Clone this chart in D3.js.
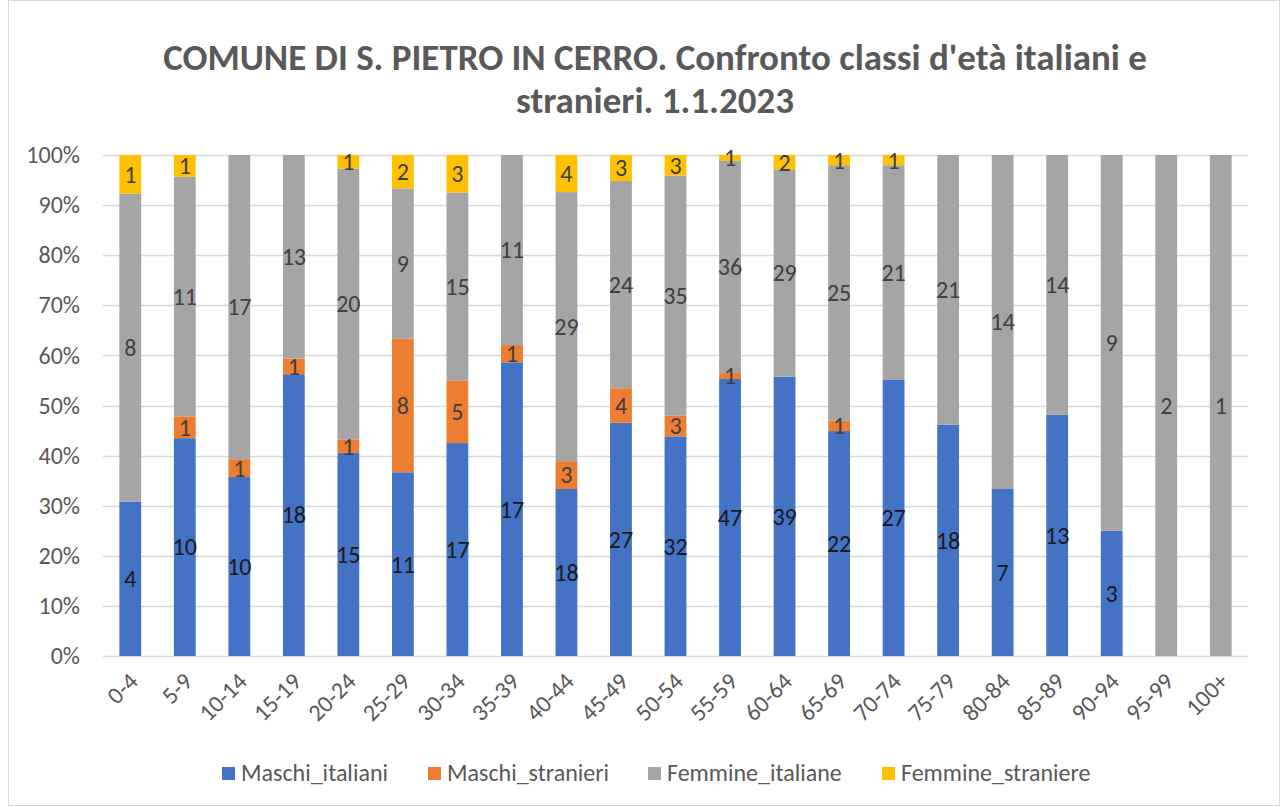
<!DOCTYPE html>
<html><head><meta charset="utf-8">
<script src="https://cdn.jsdelivr.net/npm/d3@7"></script>
<style>body{margin:0;background:#fff}svg{display:block}</style>
</head><body>
<svg id="c" width="1284" height="807"></svg>
<script>
const categories = ["0-4","5-9","10-14","15-19","20-24","25-29","30-34","35-39","40-44","45-49","50-54","55-59","60-64","65-69","70-74","75-79","80-84","85-89","90-94","95-99","100+"];
const maschiItaliani  = [4,10,10,18,15,11,17,17,18,27,32,47,39,22,27,18,7,13,3,0,0];
const maschiStranieri = [0,1,1,1,1,8,5,1,3,4,3,1,0,1,0,0,0,0,0,0,0];
const femmineItaliane = [8,11,17,13,20,9,15,11,29,24,35,36,29,25,21,21,14,14,9,2,1];
const femmineStraniere= [1,1,0,0,1,2,3,0,4,3,3,1,2,1,1,0,0,0,0,0,0];
const seriesNames = ["Maschi_italiani","Maschi_stranieri","Femmine_italiane","Femmine_straniere"];
const seriesColors = ["#4472C4","#ED7D31","#A5A5A5","#FFC000"];
const yTicks = [0,0.1,0.2,0.3,0.4,0.5,0.6,0.7,0.8,0.9,1];
const titleLines = ["COMUNE DI S. PIETRO IN CERRO. Confronto classi d'età italiani e","stranieri. 1.1.2023"];

const FONT = "Carlito, Calibri, Roboto, 'Open Sans', sans-serif";
const svg = d3.select("#c");
svg.append("rect").attr("x",8.5).attr("y",0.5).attr("width",1271).attr("height",805)
  .attr("fill","#fff").attr("stroke","#d9d9d9");

const m = {left:103, right:1248, top:155, bottom:656};
const rows = categories.map((c,i)=>({cat:c, Maschi_italiani:maschiItaliani[i], Maschi_stranieri:maschiStranieri[i], Femmine_italiane:femmineItaliane[i], Femmine_straniere:femmineStraniere[i]}));
const stack = d3.stack().keys(seriesNames).offset(d3.stackOffsetExpand)(rows);

const x = d3.scaleBand().domain(categories).range([m.left,m.right]).paddingInner(0.6).paddingOuter(0.3);
const y = d3.scaleLinear().domain([0,1]).range([m.bottom,m.top]);

// title
const tg = svg.append("g");
titleLines.forEach((t,i)=>{
  tg.append("text").attr("x",655).attr("y",70+i*43).attr("text-anchor","middle")
    .attr("font-family",FONT).attr("font-weight","bold").attr("font-size",37).attr("fill","#595959").text(t);
});
{
  const el = tg.select("text").node();
  const w = el.getComputedTextLength();
  const fs = 37*984/w;
  tg.selectAll("text").attr("font-size", Math.min(40,Math.max(26,fs)));
}

// grid
const grid = svg.append("g");
yTicks.forEach(t=>{
  grid.append("line").attr("x1",m.left).attr("x2",m.right).attr("y1",Math.round(y(t))+0.5).attr("y2",Math.round(y(t))+0.5)
    .attr("stroke","#d9d9d9").attr("stroke-width",1.3);
});
const yAxis = svg.append("g").attr("transform",`translate(${m.left},0)`)
  .call(d3.axisLeft(y).tickValues(yTicks).tickFormat(d3.format(".0%")).tickSize(0).tickPadding(23));
yAxis.select(".domain").remove();
yAxis.selectAll("text").attr("font-family",FONT).attr("font-size",24).attr("fill","#595959");

// bars
const layers = svg.append("g").selectAll("g").data(stack).join("g").attr("fill",(d,i)=>seriesColors[i]);
layers.selectAll("rect").data(d=>d).join("rect")
  .attr("x",d=>x(d.data.cat)).attr("width",x.bandwidth())
  .attr("y",d=>y(d[1])).attr("height",d=>y(d[0])-y(d[1]));

// labels
const lab = svg.append("g");
stack.forEach((s,si)=>{
  s.forEach(d=>{
    const v = d.data[s.key];
    if(!v) return;
    lab.append("text").attr("x",x(d.data.cat)+x.bandwidth()/2).attr("y",(y(d[0])+y(d[1]))/2)
      .attr("dy","0.35em").attr("text-anchor","middle")
      .attr("font-family",FONT).attr("font-size",24).attr("fill", si===0?"#1a1a1a":"#404040").text(v);
  });
});

// x axis
const xAxis = svg.append("g").attr("transform",`translate(0,${m.bottom})`)
  .call(d3.axisBottom(x).tickSize(0).tickPadding(0));
xAxis.select(".domain").remove();
xAxis.selectAll("text").attr("font-family",FONT).attr("font-size",24).attr("fill","#595959")
  .attr("text-anchor","end").attr("dy",null).attr("y",null)
  .attr("transform","translate(9,27) rotate(-45)");

// legend
const lg = svg.append("g");
const starts = [222,428,648,882];
seriesNames.forEach((n,i)=>{
  lg.append("rect").attr("x",starts[i]).attr("y",767).attr("width",13).attr("height",13).attr("fill",seriesColors[i]);
  lg.append("text").attr("x",starts[i]+19).attr("y",781).attr("font-family",FONT).attr("font-size",24).attr("fill","#595959").text(n);
});
</script>
</body></html>
